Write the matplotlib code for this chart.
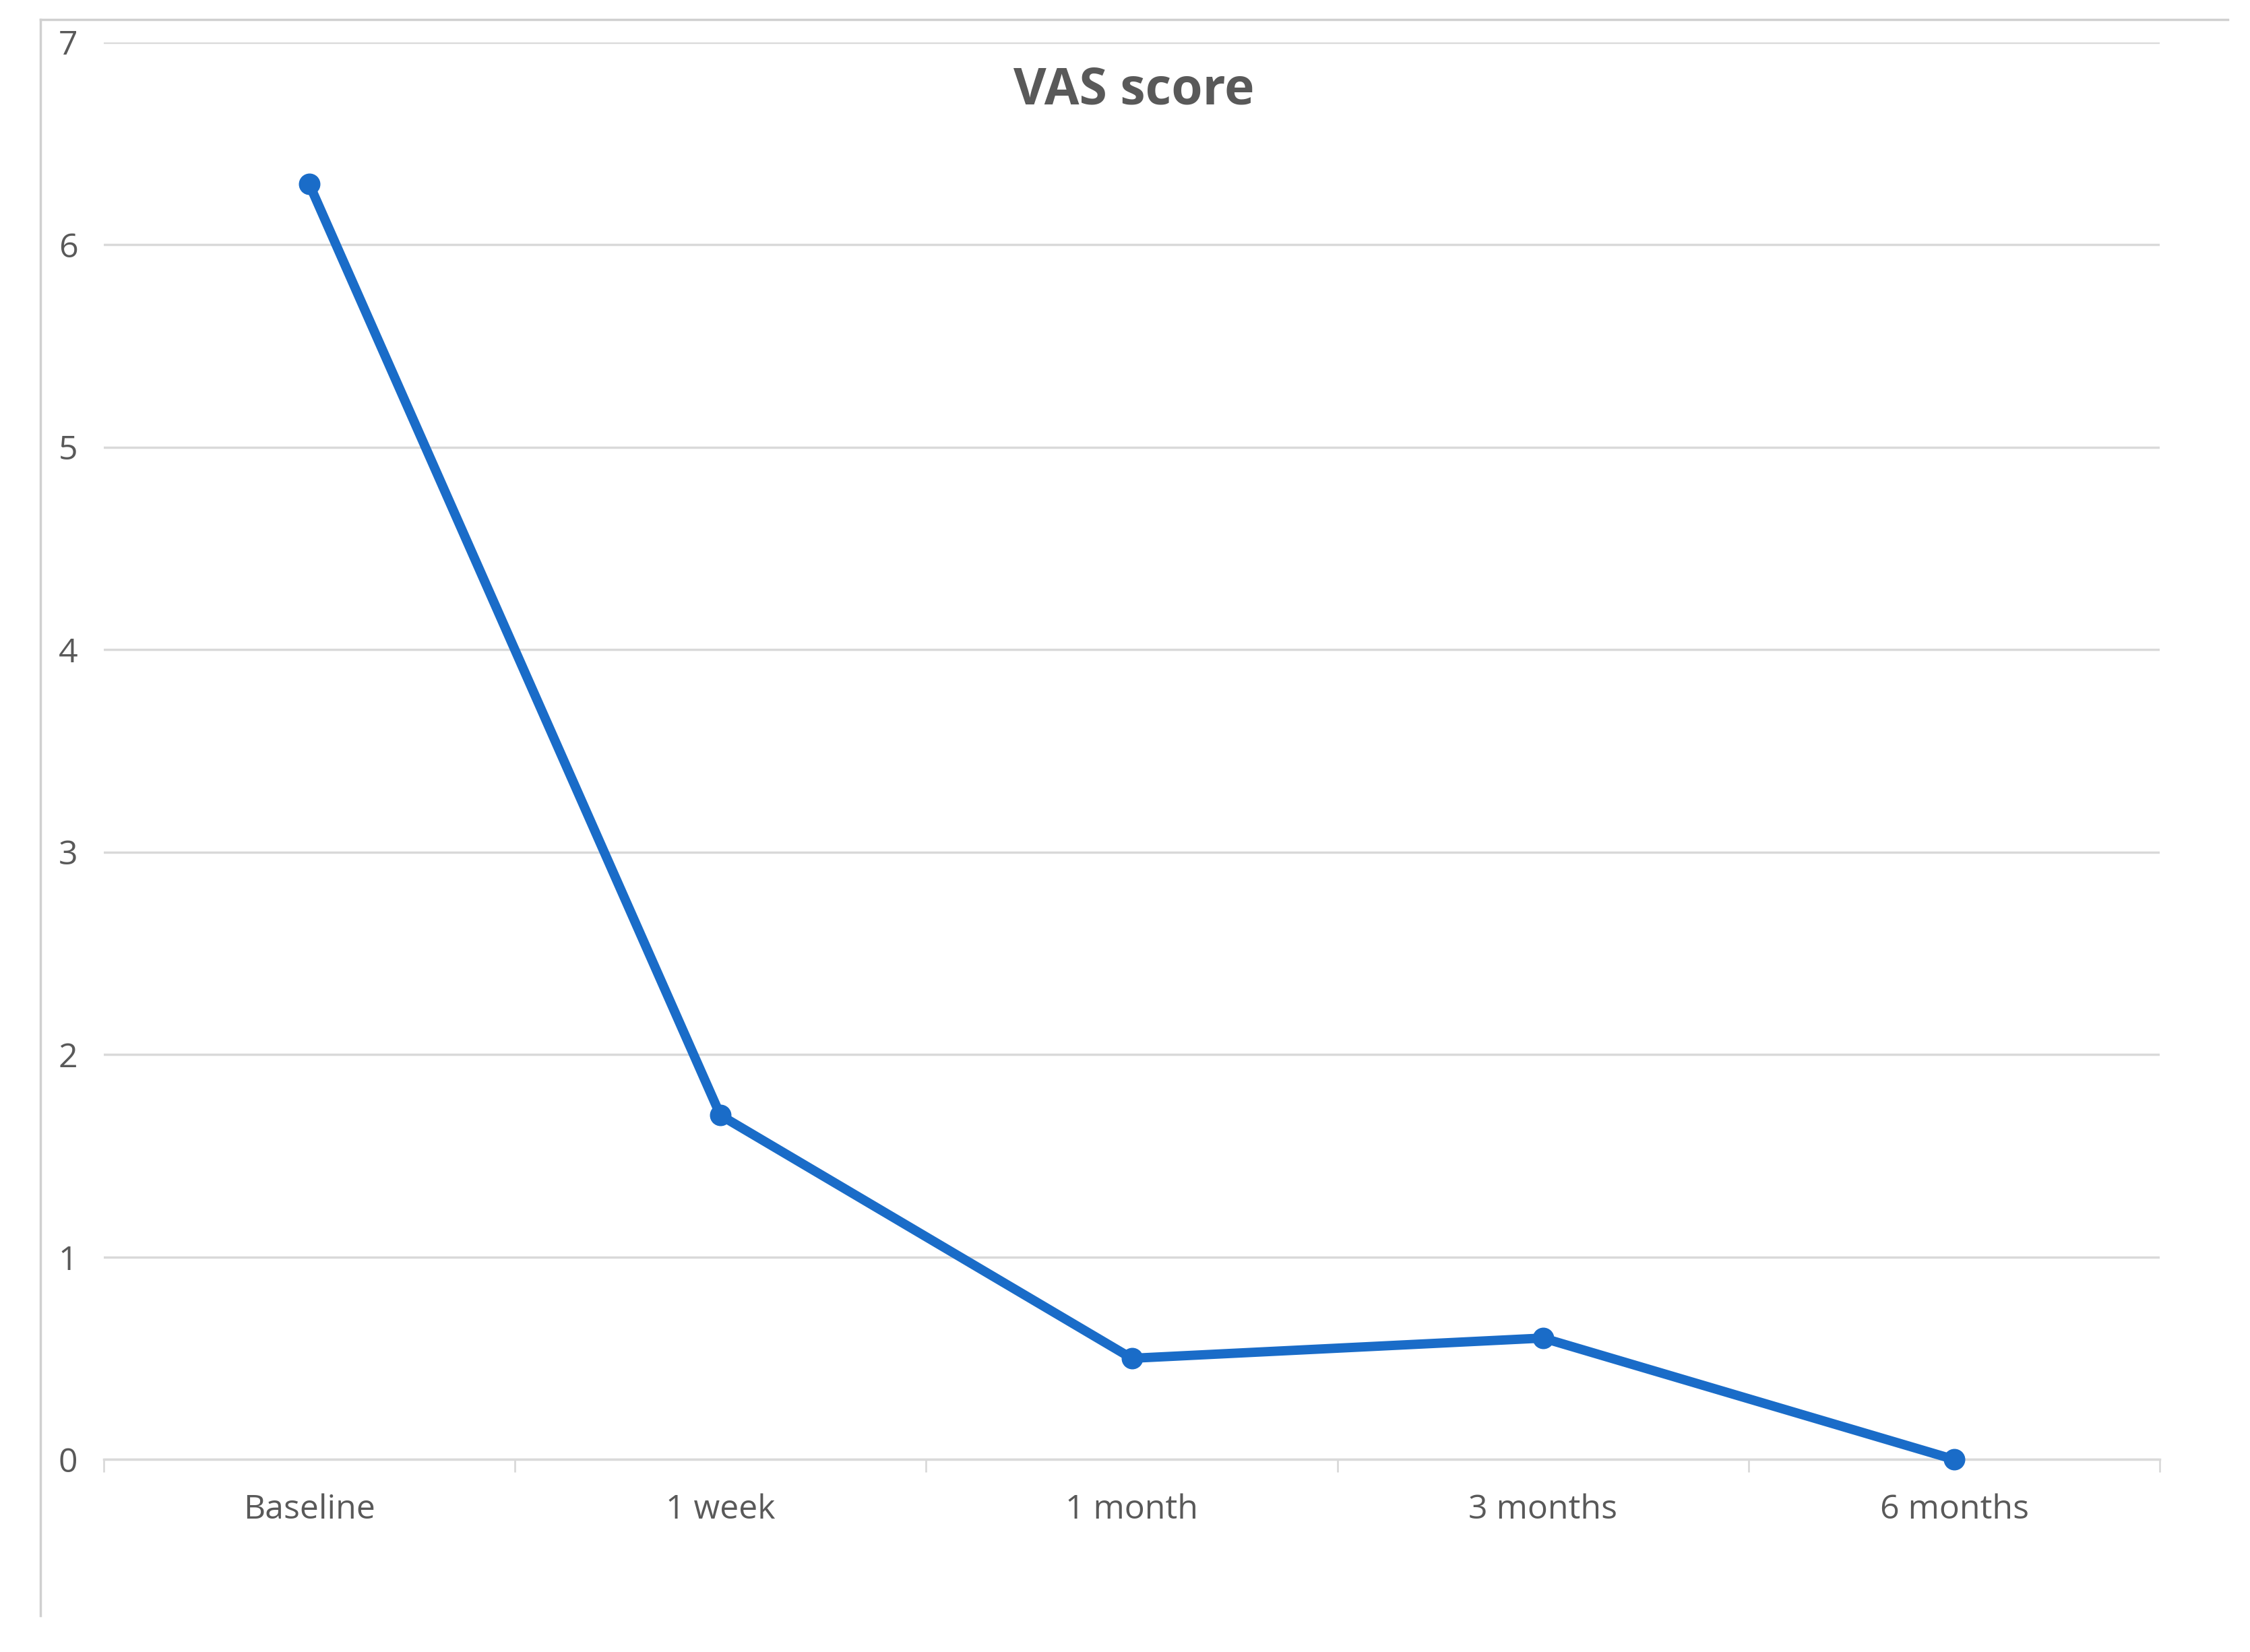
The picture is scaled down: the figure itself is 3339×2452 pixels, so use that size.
import matplotlib
matplotlib.use("Agg")
import matplotlib.pyplot as plt
from matplotlib.lines import Line2D
from matplotlib.ticker import FixedLocator

# %% Data
categories = ["Baseline", "1 week", "1 month", "3 months", "6 months"]
vas = [6.3, 1.7, 0.5, 0.6, 0.0]
yticks = [0, 1, 2, 3, 4, 5, 6, 7]

plt.rcParams["font.family"] = ["Open Sans", "DejaVu Sans"]

# %% Figure
fig = plt.figure(figsize=(33.39, 24.52), dpi=100)
ax = fig.add_axes([0.046, 0.1165, 0.914, 0.858])

x = list(range(len(categories)))
ax.plot(x, vas, color="#1a6cc8", lw=10, marker="o", ms=22,
        solid_capstyle="round", clip_on=False, zorder=3)

ax.set_xlim(-0.5, len(categories) - 0.5)
ax.set_ylim(0, 7)
ax.set_yticks(yticks)
ax.set_xticks(x)
ax.set_xticklabels(categories)
ax.xaxis.set_minor_locator(FixedLocator([i - 0.5 for i in range(len(categories) + 1)]))
ax.tick_params(axis="x", which="major", length=0, pad=36, labelsize=36, labelcolor="#595959")
ax.tick_params(axis="x", which="minor", length=14, width=2, color="#d9d9d9")
ax.tick_params(axis="y", length=0, pad=48, labelsize=36, labelcolor="#595959")
for lbl in ax.get_yticklabels():
    lbl.set_horizontalalignment("left")
ax.grid(axis="y", color="#d9d9d9", lw=2.5)
ax.set_axisbelow(True)
for s in ["top", "right", "left"]:
    ax.spines[s].set_visible(False)
ax.spines["bottom"].set_color("#d9d9d9")
ax.spines["bottom"].set_linewidth(2.5)

fig.text(0.504, 0.945, "VAS score", ha="center", va="center", fontsize=54,
         fontweight="bold", color="#595959")

# outer frame lines
fig.add_artist(Line2D([0.018, 0.99], [0.988, 0.988], color="#d0d0d0", lw=2.5))
fig.add_artist(Line2D([0.018, 0.018], [0.988, 0.022], color="#d0d0d0", lw=2.5))

fig.savefig("out.png", dpi=100, facecolor="white")
